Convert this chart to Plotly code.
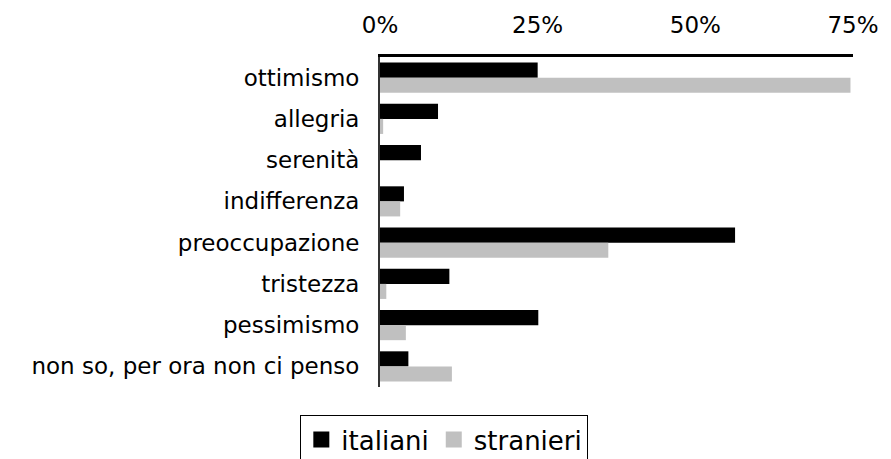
import plotly.graph_objects as go

categories = ["ottimismo", "allegria", "serenità", "indifferenza", "preoccupazione",
              "tristezza", "pessimismo", "non so, per ora non ci penso"]
italiani = [25.0, 9.2, 6.5, 3.8, 56.3, 11.0, 25.1, 4.5]
stranieri = [74.6, 0.5, 0.0, 3.2, 36.2, 1.0, 4.1, 11.4]
series_names = ["italiani", "stranieri"]
series_colors = ["#000000", "#c0c0c0"]
tick_vals = [0, 25, 50, 75]
tick_text = ["0%", "25%", "50%", "75%"]

FONT = "DejaVu Sans"

fig = go.Figure()
for name, vals, col in zip(series_names, [italiani, stranieri], series_colors):
    fig.add_trace(go.Bar(y=categories, x=vals, name=name, orientation="h",
                         marker=dict(color=col, line=dict(width=0)), showlegend=False))
# legend entries with larger square symbols
for name, col in zip(series_names, series_colors):
    fig.add_trace(go.Scatter(x=[None], y=[None], mode="markers", name=name,
                             marker=dict(symbol="square", size=16, color=col),
                             showlegend=True))

# page body has an 8px margin, so the figure is laid out 8px up/left
fig.update_layout(
    width=891, height=459,
    margin=dict(l=372, r=46, t=49, b=80, autoexpand=False),
    paper_bgcolor="white", plot_bgcolor="white",
    barmode="group", bargap=0.27, bargroupgap=0,
    font=dict(family=FONT, color="#000000"),
    showlegend=True,
    legend=dict(orientation="h", x=0.136, xanchor="center", y=-0.085, yanchor="top",
                xref="paper", yref="paper",
                font=dict(size=26, family=FONT), bordercolor="#000000", borderwidth=1,
                itemwidth=30, tracegroupgap=0),
    xaxis=dict(side="top", range=[0, 75], tickvals=tick_vals, ticktext=tick_text,
               showgrid=False, zeroline=False, showline=True, linecolor="#000000",
               linewidth=3, ticks="outside", ticklen=12, tickcolor="rgba(0,0,0,0)",
               tickfont=dict(size=23, family=FONT), automargin=False),
    yaxis=dict(autorange="reversed", showgrid=False, zeroline=False, showline=True,
               linecolor="#333333", linewidth=2, ticks="outside", ticklen=14,
               tickcolor="rgba(0,0,0,0)", tickfont=dict(size=23, family=FONT),
               automargin=False),
)

fig.write_html("out.html")
